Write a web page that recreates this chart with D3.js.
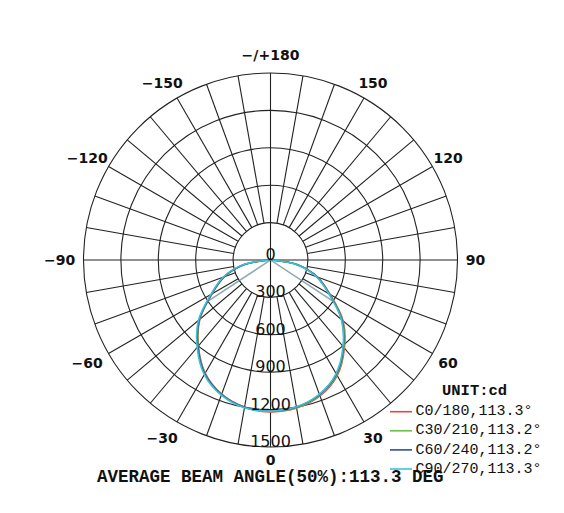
<!DOCTYPE html>
<html>
<head>
<meta charset="utf-8">
<script src="https://cdn.jsdelivr.net/npm/d3@7"></script>
<style>
  html, body { margin: 0; padding: 0; background: #fff; }
  svg { display: block; }
</style>
</head>
<body>
<svg id="chart" width="564" height="513"></svg>
<script>
// ---- data ----
const gammaAngles = [-90, -80, -70, -60, -50, -40, -30, -20, -10, 0, 10, 20, 30, 40, 50, 60, 70, 80, 90];
const seriesNames = ["C0/180,113.3°", "C30/210,113.2°", "C60/240,113.2°", "C90/270,113.3°"];
const beamAngles = [113.3, 113.2, 113.2, 113.3];
const seriesColors = ["#e8463c", "#6cc24a", "#2f4f9e", "#3cc3d8"];
const valuesC0   = [8, 215, 395, 540, 740, 900, 1048, 1145, 1198, 1218, 1206, 1160, 1070, 922, 760, 552, 402, 222, 8];
const valuesC30  = [8, 218, 398, 543, 744, 903, 1052, 1147, 1200, 1214, 1202, 1155, 1064, 916, 754, 548, 398, 220, 8];
const valuesC60  = [8, 220, 400, 546, 748, 907, 1055, 1149, 1200, 1212, 1198, 1150, 1058, 910, 748, 544, 395, 218, 8];
const valuesC90  = [8, 225, 405, 552, 755, 915, 1062, 1154, 1204, 1212, 1196, 1146, 1052, 905, 742, 540, 392, 215, 8];
const seriesValues = [valuesC0, valuesC30, valuesC60, valuesC90];
const radialTicks = [0, 300, 600, 900, 1200, 1500];
const angleTicks = [180, -150, -120, -90, -60, -30, 0, 30, 60, 90, 120, 150];
const angleTickLabels = ["−/+180", "−150", "−120", "−90", "−60", "−30", "0", "30", "60", "90", "120", "150"];
const unitLabel = "UNIT:cd";
const footerText = "AVERAGE BEAM ANGLE(50%):113.3 DEG";

// ---- layout ----
const cx = 270.5, cy = 260, R = 187;
const svg = d3.select("#chart");
const g = svg.append("g").attr("transform", `translate(${cx},${cy})`);
const r = d3.scaleLinear().domain([0, 1500]).range([0, R]);
// gamma angle (0 = down, positive to the right) -> d3 radial angle (0 = up, clockwise)
const toRad = a => (180 - a) * Math.PI / 180;
const gridColor = "#222";

// circles
g.selectAll("circle.grid").data(radialTicks.slice(1)).enter().append("circle")
  .attr("class", "grid").attr("r", d => r(d))
  .attr("fill", "none").attr("stroke", gridColor).attr("stroke-width", 1.1);

// spokes every 10 degrees
const spokes = d3.range(0, 360, 10);
g.selectAll("line.spoke").data(spokes).enter().append("line")
  .attr("x1", d => (d % 90 === 0 ? 0 : r(300)) * Math.sin(toRad(d)))
  .attr("y1", d => -(d % 90 === 0 ? 0 : r(300)) * Math.cos(toRad(d)))
  .attr("x2", d => R * Math.sin(toRad(d)))
  .attr("y2", d => -R * Math.cos(toRad(d)))
  .attr("stroke", gridColor).attr("stroke-width", 1.1);

// curves
const line = d3.lineRadial()
  .angle(d => toRad(d[0]))
  .radius(d => r(d[1]))
  .curve(d3.curveCatmullRom.alpha(0.5));

seriesValues.forEach((vals, i) => {
  const pts = gammaAngles.map((a, j) => [a, vals[j]]);
  g.append("path").datum(pts).attr("d", line)
    .attr("fill", "none").attr("stroke", seriesColors[i]).attr("stroke-width", 1.6);
});

// beam angle (50%) lines
seriesValues.forEach((vals, i) => {
  const half = d3.max(vals) / 2;
  [-beamAngles[i] / 2, beamAngles[i] / 2].forEach(a => {
    g.append("line")
      .attr("x1", 0).attr("y1", 0)
      .attr("x2", r(half) * Math.sin(toRad(a)))
      .attr("y2", -r(half) * Math.cos(toRad(a)))
      .attr("stroke", seriesColors[i]).attr("stroke-opacity", 0.28).attr("stroke-width", 1.4);
  });
});

// radial labels
g.selectAll("text.rlabel").data(radialTicks).enter().append("text")
  .attr("x", 0).attr("y", d => r(d))
  .attr("text-anchor", "middle")
  .attr("font-family", "DejaVu Sans").attr("font-size", 16)
  .attr("fill", "#111")
  .text(d => d);

// angle labels
const labelR = d => (d === 0 ? 200 : 205);
const at = g.selectAll("text.alabel").data(angleTicks).enter().append("text")
  .attr("x", d => labelR(d) * Math.sin(toRad(d)))
  .attr("y", d => -labelR(d) * Math.cos(toRad(d)))
  .attr("dy", "0.36em")
  .attr("text-anchor", "middle")
  .attr("font-family", "DejaVu Sans").attr("font-weight", "bold").attr("font-size", 14)
  .attr("fill", "#111")
  .text((d, i) => angleTickLabels[i]);
// shift negative labels so the digits are centred (minus sign hangs left)
at.attr("dx", d => (d < 0 ? -5.8 : 0));

// footer
svg.append("text").attr("x", 97).attr("y", 482)
  .attr("font-family", "Liberation Mono").attr("font-weight", "bold").attr("font-size", 17.5)
  .attr("fill", "#111").text(footerText);

// legend (drawn over the footer like the reference)
const lg = svg.append("g");
lg.append("text").attr("x", 442).attr("y", 395)
  .attr("font-family", "Liberation Mono").attr("font-weight", "bold").attr("font-size", 15.5)
  .attr("fill", "#111").text(unitLabel);
seriesNames.forEach((name, i) => {
  const y = 411.7 + i * 19.1;
  lg.append("line").attr("x1", 390).attr("x2", 412).attr("y1", y).attr("y2", y)
    .attr("stroke", seriesColors[i]).attr("stroke-width", 1.6);
  lg.append("text").attr("x", 415.5).attr("y", y + 3.6)
    .attr("font-family", "Liberation Mono").attr("font-size", 15)
    .attr("fill", "#111").text(name);
});
</script>
</body>
</html>
